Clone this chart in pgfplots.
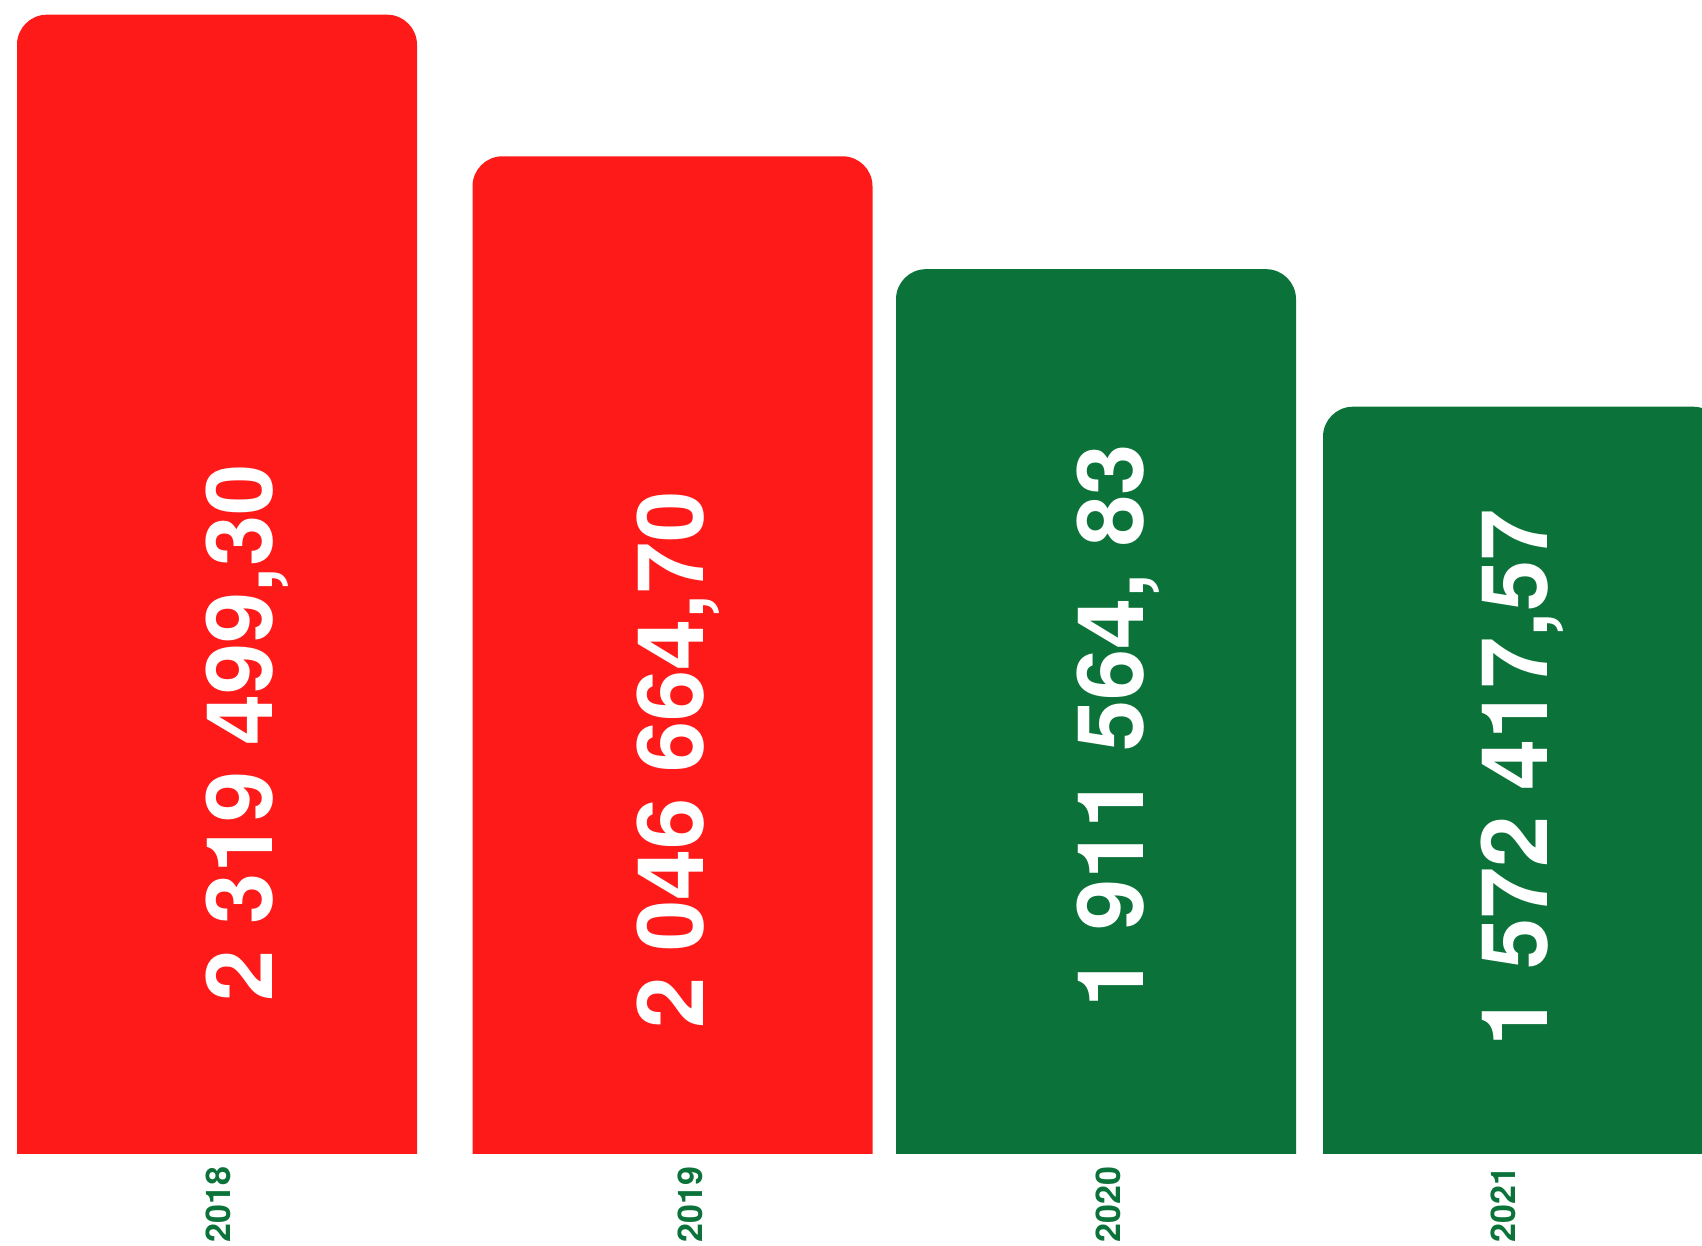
\documentclass[border=0pt]{standalone}
\usepackage{pgfplots}
\pgfplotsset{compat=1.18}
\usepackage{pgfplotstable}
\usepackage{fontspec}
\setmainfont{TeX Gyre Heros}
\newfontfamily\chartfont{TeX Gyre Heros}

\definecolor{barred}{HTML}{FF1A1A}
\definecolor{bargreen}{HTML}{0B7339}

% x: bar centre, h: drawn height, b: hidden start below the axis (hides the lower corners)
% lx/ly: where the value label sits
\pgfplotstableread{
x     h        b        lx    ly      lab
217   2319499  -100000  272   857100  {2~319~499,30}
672.5 2031200  -100000  703   802100  {2~046~664,70}
}\redbars
\pgfplotstableread{
x     h        b        lx    ly      lab
1096  1801400  -100000  1143  871400  {1~911~564,~83}
1523  1521400  -100000  1547  765500  {1~572~417,57}
}\greenbars

\pgfplotsset{
  frame/.style={
    scale only axis,
    width=851pt, height=577pt,
    at={(0,0)}, anchor=south west,
    xmin=0, xmax=1702,
    ymin=0, ymax=2349430,
    axis line style={draw=none},
    major tick length=0pt,
    ytick=\empty, xtick=\empty,
    bar width=400,
  },
  valuelabel/.style={draw=none, mark=none, point meta=explicit symbolic,
    nodes near coords={\chartfont\bfseries\fontsize{46}{46}\selectfont\pgfplotspointmeta}},
}

\begin{document}
\begin{tikzpicture}
\begin{axis}[frame, name=ax, ybar stacked, stack negative=on previous,
  xtick={218,690,1108,1503},
  xticklabels={2018,2019,2020,2021},
  xticklabel style={rotate=90, anchor=east, inner sep=0pt, text=bargreen,
    font=\chartfont\bfseries\fontsize{17}{17}\selectfont},
  xticklabel shift=6pt,
]
\addplot[draw=none, fill=none] table[x=x, y=b] {\redbars};
\addplot[fill=barred, draw=none, rounded corners=15pt]
  table[x=x, y expr=\thisrow{h}-\thisrow{b}] {\redbars};
\end{axis}

\begin{axis}[frame, ybar stacked, stack negative=on previous]
\addplot[draw=none, fill=none] table[x=x, y=b] {\greenbars};
\addplot[fill=bargreen, draw=none, rounded corners=15pt]
  table[x=x, y expr=\thisrow{h}-\thisrow{b}] {\greenbars};
\end{axis}

\begin{axis}[frame,
  every node near coord/.append style={rotate=90, anchor=base, inner sep=0pt,
    text=white},
]
\addplot[valuelabel] table[x=lx, y=ly, meta=lab] {\redbars};
\addplot[valuelabel] table[x=lx, y=ly, meta=lab] {\greenbars};
\end{axis}
\pgfresetboundingbox
\path[use as bounding box] (ax.north west) rectangle ([yshift=-46pt]ax.south east);
\end{tikzpicture}
\end{document}
